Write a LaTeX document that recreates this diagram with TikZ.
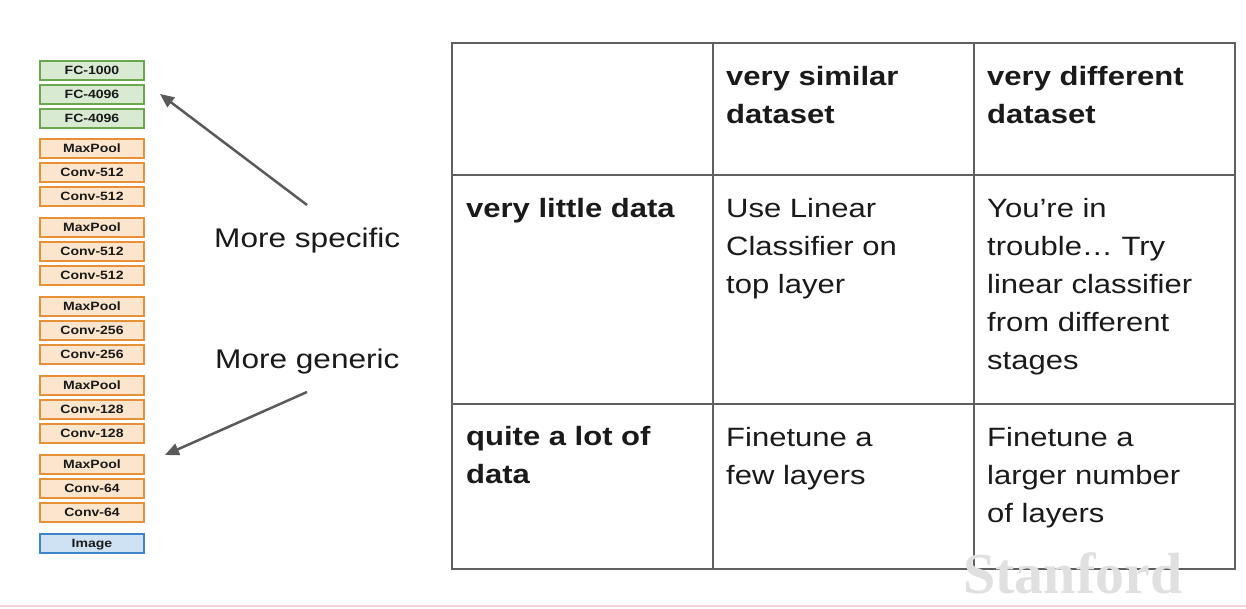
\documentclass[tikz,border=0pt]{standalone}
\usepackage{fontspec}
\setmainfont{Liberation Sans}[FakeStretch=1.17]
\newfontfamily\wmfont{Liberation Serif}
\usetikzlibrary{arrows.meta}
\definecolor{gfill}{HTML}{D9EAD3}
\definecolor{gdraw}{HTML}{6AA84F}
\definecolor{ofill}{HTML}{FCE5CD}
\definecolor{odraw}{HTML}{E69138}
\definecolor{bfill}{HTML}{CFE2F3}
\definecolor{bdraw}{HTML}{3D85C6}
\definecolor{linegray}{HTML}{5F5F5F}
\definecolor{arrowgray}{HTML}{5A5A5A}
\definecolor{txt}{HTML}{1A1A1A}
\definecolor{wm}{HTML}{E0E0E0}
\definecolor{pinkline}{HTML}{F6D3D8}
\newcommand{\celltext}[1]{\begin{tabular}[t]{@{}l@{}}#1\end{tabular}}
\begin{document}
\begin{tikzpicture}[x=1pt,y=-1pt,
  layer/.style={draw, line width=2pt, minimum width=104pt, minimum height=19pt, inner sep=0pt,
    text height=8.8pt, text depth=0pt,
    font=\fontsize{12}{14}\selectfont\bfseries, text=txt},
  fcbox/.style={layer, fill=gfill, draw=gdraw},
  cvbox/.style={layer, fill=ofill, draw=odraw},
  imbox/.style={layer, fill=bfill, draw=bdraw},
  tabtext/.style={anchor=base west, inner sep=0pt, font=\fontsize{26.5}{38}\selectfont, text=txt},
  sidetext/.style={anchor=base west, inner sep=0pt, font=\fontsize{27}{32}\selectfont, text=txt},
  tabline/.style={draw=linegray, line width=1.5pt},
  arr/.style={draw=arrowgray, line width=2.5pt, -{Triangle[length=14pt,width=12pt]}}
]
\useasboundingbox (0,0) rectangle (1246,608);
\fill[white] (0,0) rectangle (1246,608);

% layer stack
\node[fcbox] (b1)  at (92,70)  {FC-1000};
\node[fcbox] (b2)  at (92,94)  {FC-4096};
\node[fcbox] (b3)  at (92,118) {FC-4096};
\node[cvbox] (b4)  at (92,148) {MaxPool};
\node[cvbox] (b5)  at (92,172) {Conv-512};
\node[cvbox] (b6)  at (92,196) {Conv-512};
\node[cvbox] (b7)  at (92,227) {MaxPool};
\node[cvbox] (b8)  at (92,251) {Conv-512};
\node[cvbox] (b9)  at (92,275) {Conv-512};
\node[cvbox] (b10) at (92,306) {MaxPool};
\node[cvbox] (b11) at (92,330) {Conv-256};
\node[cvbox] (b12) at (92,354) {Conv-256};
\node[cvbox] (b13) at (92,385) {MaxPool};
\node[cvbox] (b14) at (92,409) {Conv-128};
\node[cvbox] (b15) at (92,433) {Conv-128};
\node[cvbox] (b16) at (92,464) {MaxPool};
\node[cvbox] (b17) at (92,488) {Conv-64};
\node[cvbox] (b18) at (92,512) {Conv-64};
\node[imbox] (b19) at (92,543) {Image};

% side labels and arrows
\node[sidetext] (spec) at (214,247) {More specific};
\node[sidetext] (gen)  at (215,368) {More generic};
\coordinate (s1) at (307,205);
\coordinate (t1) at (160,94);
\coordinate (s2) at (307,392);
\coordinate (t2) at (165,455);
\draw[arr] (s1) -- (t1);
\draw[arr] (s2) -- (t2);

% table
\draw[tabline] (452,43) rectangle (1235,569);
\draw[tabline] (713,43) -- (713,569);
\draw[tabline] (974,43) -- (974,569);
\draw[tabline] (452,175) -- (1235,175);
\draw[tabline] (452,404) -- (1235,404);

\node[tabtext] (h1) at (726,85) {\celltext{\bfseries very similar\\\bfseries dataset}};
\node[tabtext] (h2) at (987,85) {\celltext{\bfseries very different\\\bfseries dataset}};
\node[tabtext] (r1) at (466,217) {\celltext{\bfseries very little data}};
\node[tabtext] (r2) at (466,445) {\celltext{\bfseries quite a lot of\\\bfseries data}};
\node[tabtext] (c11) at (726,217) {\celltext{Use Linear\\Classifier on\\top layer}};
\node[tabtext] (c12) at (987,217) {\celltext{You’re in\\trouble… Try\\linear classifier\\from different\\stages}};
\node[tabtext] (c21) at (726,446) {\celltext{Finetune a\\few layers}};
\node[tabtext] (c22) at (987,446) {\celltext{Finetune a\\larger number\\of layers}};

% watermark and bottom rule
\node[anchor=base west, inner sep=0pt, font=\wmfont\bfseries\fontsize{58}{60}\selectfont, text=wm] (wmk) at (963,593) {Stanford};
\draw[pinkline, line width=1.5pt] (0,606) -- (1246,606);
\end{tikzpicture}
\end{document}
